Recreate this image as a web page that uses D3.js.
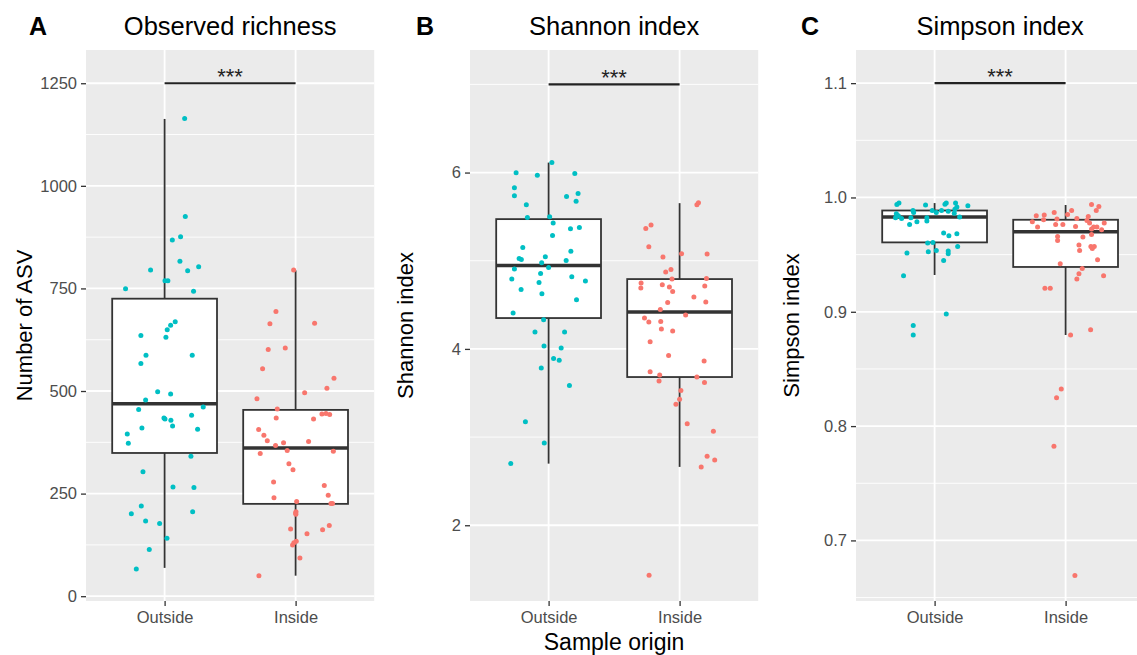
<!DOCTYPE html>
<html><head><meta charset="utf-8">
<script src="https://cdn.jsdelivr.net/npm/d3@7"></script>
<style>html,body{margin:0;padding:0;background:#fff;}svg{display:block;font-family:"Liberation Sans",Arial,sans-serif;}</style>
</head><body><svg id="chart" width="1137" height="655"></svg>
<script>
const categories = ["Outside", "Inside"];
const panelLetters = ["A", "B", "C"];
const panelTitles = ["Observed richness", "Shannon index", "Simpson index"];
const yTitles = ["Number of ASV", "Shannon index", "Simpson index"];
const xTitle = "Sample origin";
const sigLabel = "***";
const yTicksA = [0, 250, 500, 750, 1000, 1250];
const yTicksB = [2, 4, 6];
const yTicksC = [0.7, 0.8, 0.9, 1.0, 1.1];
const minorA = [125, 375, 625, 875, 1125];
const minorB = [3, 5, 7];
const minorC = [0.65, 0.75, 0.85, 0.95, 1.05];
const bracketValues = [1250, 7, 1.1];

// box stats: [lower whisker, Q1, median, Q3, upper whisker]
const richnessBoxOutside = [69, 349, 469, 725, 1163];
const richnessBoxInside = [50, 225, 361, 454, 794];
const shannonBoxOutside = [2.699, 4.35, 4.946, 5.472, 6.113];
const shannonBoxInside = [2.662, 3.681, 4.418, 4.792, 5.653];
const simpsonBoxOutside = [0.9322, 0.9607, 0.9829, 0.9886, 0.9951];
const simpsonBoxInside = [0.8797, 0.9392, 0.970, 0.9805, 0.9934];

// observed values and horizontal jitter (fraction of category spacing)
const richnessOutside = [1164,925,868,876,816,795,793,803,769,769,749,743,669,660,649,635,631,587,587,567,498,493,478,461,455,441,434,432,429,415,410,407,395,373,341,303,266,265,220,201,206,183,177,141,114,66];
const richnessOutsideJitter = [0.153,0.158,0.059,0.122,0.117,-0.107,0.176,0.26,0.003,0.025,-0.298,0.221,0.081,0.046,0.02,-0.181,0.01,-0.142,0.211,-0.181,-0.053,0.046,-0.145,0.295,-0.198,0.206,-0.005,0.003,0.048,0.061,-0.173,0.252,-0.285,-0.277,0.201,-0.165,0.064,0.224,-0.178,-0.254,0.214,-0.145,-0.038,0.018,-0.117,-0.216];
const richnessInside = [795,694,664,665,601,605,554,531,496,507,481,456,434,432,444,445,443,406,392,379,374,367,377,355,348,353,323,308,278,270,246,240,231,226,226,206,203,200,164,162,172,152,134,130,125,93,50];
const richnessInsideJitter = [-0.015,-0.150,-0.196,0.145,-0.209,-0.079,-0.252,0.293,0.069,0.239,-0.295,-0.140,-0.148,0.137,0.201,0.232,0.260,-0.282,-0.242,-0.216,-0.092,-0.153,0.099,-0.064,-0.270,0.288,-0.051,-0.020,-0.168,0.219,0.249,-0.165,0.008,0.270,0.282,0.003,0.000,0.002,-0.038,0.206,0.257,0.087,0.005,-0.013,-0.023,0.033,-0.280];

const shannonOutside = [6.113,5.997,5.97,5.989,5.827,5.736,5.728,5.762,5.676,5.634,5.49,5.498,5.427,5.362,5.377,5.286,5.15,5.109,5.025,5.014,5.045,5.003,4.977,4.923,4.905,4.792,4.856,4.818,4.769,4.754,4.674,4.626,4.558,4.407,4.331,4.191,4.191,4.033,4.01,3.892,3.87,3.783,3.586,3.175,2.934,2.699];
const shannonOutsideJitter = [0.025,-0.248,-0.086,0.2,-0.261,-0.261,0.137,0.225,0.210,-0.170,-0.162,0.008,0.035,0.167,0.235,0.03,-0.197,0.17,-0.225,-0.208,-0.025,0.134,-0.053,0,-0.261,-0.281,-0.061,0.177,0.281,-0.073,-0.210,-0.051,0.213,-0.271,-0.038,-0.104,0.122,-0.035,0.096,0.038,0.081,-0.056,0.159,-0.177,-0.033,-0.289];
const shannonInside = [5.634,5.657,5.365,5.404,5.158,5.041,5.079,5.075,4.871,4.901,4.792,4.799,4.747,4.69,4.728,4.701,4.652,4.713,4.588,4.531,4.527,4.448,4.384,4.35,4.305,4.312,4.225,4.203,4.082,3.926,3.863,3.742,3.704,3.636,3.681,3.62,3.529,3.428,3.371,3.152,3.065,2.782,2.741,2.662,1.433];
const shannonInsideJitter = [0.132,0.144,-0.258,-0.218,-0.235,-0.127,0.015,0.210,-0.106,-0.066,-0.058,0.205,-0.294,-0.296,-0.132,-0.078,-0.053,0.192,0.109,0.2,-0.091,-0.147,0.046,-0.268,-0.235,-0.144,-0.139,-0.053,-0.225,-0.084,0.187,-0.225,-0.152,-0.157,0.132,0.190,0.01,0,-0.028,0.058,0.258,0.210,0.268,0.165,-0.233];

const simpsonOutside = [0.9939,0.9951,0.9934,0.9951,0.9940,0.9951,0.9916,0.9927,0.9886,0.9869,0.9886,0.9869,0.9886,0.9880,0.9863,0.9898,0.9829,0.9857,0.9840,0.9823,0.9817,0.9823,0.9788,0.9764,0.9823,0.9794,0.9689,0.9665,0.9683,0.9601,0.9607,0.9572,0.9514,0.9525,0.9537,0.9531,0.9508,0.9449,0.9316,0.8980,0.8881,0.8797];
const simpsonOutsideJitter = [-0.288,-0.272,-0.069,0.089,0.079,0.160,0.170,0.254,-0.165,-0.160,-0.018,0.013,0.053,0.104,0.150,0.155,0.191,-0.292,-0.277,-0.298,-0.252,-0.181,-0.135,-0.191,-0.059,-0.059,0.069,0.109,0.170,-0.053,-0.013,0.176,-0.211,-0.048,0.013,0.104,0.104,0.069,-0.237,0.089,-0.163,-0.163];
const simpsonInside = [0.9939,0.9921,0.9886,0.9886,0.9851,0.9869,0.9846,0.9840,0.9805,0.9788,0.9811,0.9817,0.9834,0.9799,0.9776,0.9776,0.9741,0.9764,0.9764,0.9747,0.9741,0.9741,0.9724,0.9718,0.9659,0.9624,0.9654,0.9677,0.9584,0.9537,0.9572,0.9572,0.9554,0.9455,0.9420,0.9379,0.9333,0.9316,0.9287,0.9205,0.9205,0.8797,0.8843,0.8325,0.8249,0.7823,0.6693];
const simpsonInsideJitter = [0.198,0.254,0.234,0.046,0.015,-0.087,-0.163,-0.224,-0.168,-0.254,-0.066,0.086,0.173,0.163,0.183,0.295,-0.214,-0.076,-0.021,0.076,0.214,0.239,0.198,0.275,-0.061,-0.061,0.132,0.198,0.102,0.107,0.193,0.219,0.204,0.244,-0.041,0.127,0.102,0.290,0.086,-0.158,-0.117,0.038,0.191,-0.033,-0.069,-0.089,0.071];

const colors = {Outside: "#00BFC4", Inside: "#F8766D"};

const panels = [
  {left: 86, domain: [-11.7, 1331], ticks: yTicksA, minor: minorA, fmt: d3.format("d"),
   box: {Outside: richnessBoxOutside, Inside: richnessBoxInside},
   pts: {Outside: [richnessOutside, richnessOutsideJitter], Inside: [richnessInside, richnessInsideJitter]}},
  {left: 470, domain: [1.141, 7.39], ticks: yTicksB, minor: minorB, fmt: d3.format("d"),
   box: {Outside: shannonBoxOutside, Inside: shannonBoxInside},
   pts: {Outside: [shannonOutside, shannonOutsideJitter], Inside: [shannonInside, shannonInsideJitter]}},
  {left: 856, domain: [0.647, 1.129], ticks: yTicksC, minor: minorC, fmt: d3.format(".1f"),
   box: {Outside: simpsonBoxOutside, Inside: simpsonBoxInside},
   pts: {Outside: [simpsonOutside, simpsonOutsideJitter], Inside: [simpsonInside, simpsonInsideJitter]}}
];

const svg = d3.select("#chart");
const panelTop = 50, panelBottom = 601, step = 131, pw = 2.2 * step;
const titleY = 34.5;
const yTitleX = [32, 413, 799];
const letterX = [29, 416, 801];

panels.forEach((p, i) => {
  const g = svg.append("g");
  const y = d3.scaleLinear().domain(p.domain).range([panelBottom, panelTop]);
  const x = d3.scalePoint().domain(categories).range([p.left + 0.6 * step, p.left + 1.6 * step]);

  g.append("rect").attr("x", p.left).attr("y", panelTop).attr("width", pw).attr("height", panelBottom - panelTop).attr("fill", "#EBEBEB");
  g.selectAll(".minor").data(p.minor.filter(v => v > p.domain[0] && v < p.domain[1])).join("line")
    .attr("x1", p.left).attr("x2", p.left + pw).attr("y1", d => y(d)).attr("y2", d => y(d))
    .attr("stroke", "#fff").attr("stroke-width", 0.9);
  g.selectAll(".major").data(p.ticks).join("line")
    .attr("x1", p.left).attr("x2", p.left + pw).attr("y1", d => y(d)).attr("y2", d => y(d))
    .attr("stroke", "#fff").attr("stroke-width", 1.8);
  g.selectAll(".vmajor").data(categories).join("line")
    .attr("x1", d => x(d)).attr("x2", d => x(d)).attr("y1", panelTop).attr("y2", panelBottom)
    .attr("stroke", "#fff").attr("stroke-width", 1.8);

  // y axis
  const yAxis = d3.axisLeft(y).tickValues(p.ticks).tickFormat(p.fmt).tickSize(5).tickPadding(4);
  const ya = g.append("g").attr("transform", `translate(${p.left},0)`).call(yAxis);
  ya.select(".domain").remove();
  ya.selectAll(".tick line").attr("stroke", "#333").attr("stroke-width", 1.3);
  ya.selectAll(".tick text").attr("fill", "#4D4D4D").style("font-size", "16.5px").style("font-family", "Liberation Sans, Arial, sans-serif");

  // x axis
  const xAxis = d3.axisBottom(x).tickSize(5).tickPadding(5);
  const xa = g.append("g").attr("transform", `translate(0,${panelBottom})`).call(xAxis);
  xa.select(".domain").remove();
  xa.selectAll(".tick line").attr("stroke", "#333").attr("stroke-width", 1.3);
  xa.selectAll(".tick text").attr("fill", "#4D4D4D").style("font-size", "16.5px").style("font-family", "Liberation Sans, Arial, sans-serif");

  // boxes
  const bw = 0.8 * step;
  categories.forEach(c => {
    const b = p.box[c];
    const cx = x(c);
    g.append("line").attr("x1", cx).attr("x2", cx).attr("y1", y(b[3])).attr("y2", y(b[4])).attr("stroke", "#333").attr("stroke-width", 1.8);
    g.append("line").attr("x1", cx).attr("x2", cx).attr("y1", y(b[1])).attr("y2", y(b[0])).attr("stroke", "#333").attr("stroke-width", 1.8);
    g.append("rect").attr("x", cx - bw / 2).attr("y", y(b[3])).attr("width", bw).attr("height", y(b[1]) - y(b[3]))
      .attr("fill", "#fff").attr("stroke", "#333").attr("stroke-width", 1.8);
    g.append("line").attr("x1", cx - bw / 2).attr("x2", cx + bw / 2).attr("y1", y(b[2])).attr("y2", y(b[2])).attr("stroke", "#333").attr("stroke-width", 3.6);
  });

  // points
  categories.forEach(c => {
    const [vals, jit] = p.pts[c];
    g.selectAll(null).data(vals.map((v, k) => ({v, j: jit[k]}))).join("circle")
      .attr("cx", d => x(c) + d.j * step).attr("cy", d => y(d.v)).attr("r", 2.5).attr("fill", colors[c]);
  });

  // significance bracket
  const by = y(bracketValues[i]);
  g.append("line").attr("x1", x("Outside")).attr("x2", x("Inside")).attr("y1", by).attr("y2", by).attr("stroke", "#222").attr("stroke-width", 2.2);
  g.append("text").attr("x", (x("Outside") + x("Inside")) / 2).attr("y", by + 1).attr("text-anchor", "middle")
    .style("font-size", "22px").attr("fill", "#222").text(sigLabel);

  // titles
  g.append("text").attr("x", p.left + pw / 2).attr("y", titleY).attr("text-anchor", "middle").style("font-size", "25.5px").attr("fill", "#000").text(panelTitles[i]);
  g.append("text").attr("x", letterX[i]).attr("y", titleY).style("font-size", "25px").style("font-weight", "bold").attr("fill", "#000").text(panelLetters[i]);
  g.append("text").attr("transform", `translate(${yTitleX[i]},${(panelTop + panelBottom) / 2}) rotate(-90)`).attr("text-anchor", "middle")
    .style("font-size", "22px").attr("fill", "#000").text(yTitles[i]);
  if (i === 1) {
    g.append("text").attr("x", p.left + pw / 2).attr("y", 650).attr("text-anchor", "middle").style("font-size", "23px").attr("fill", "#000").text(xTitle);
  }
});
</script></body></html>
